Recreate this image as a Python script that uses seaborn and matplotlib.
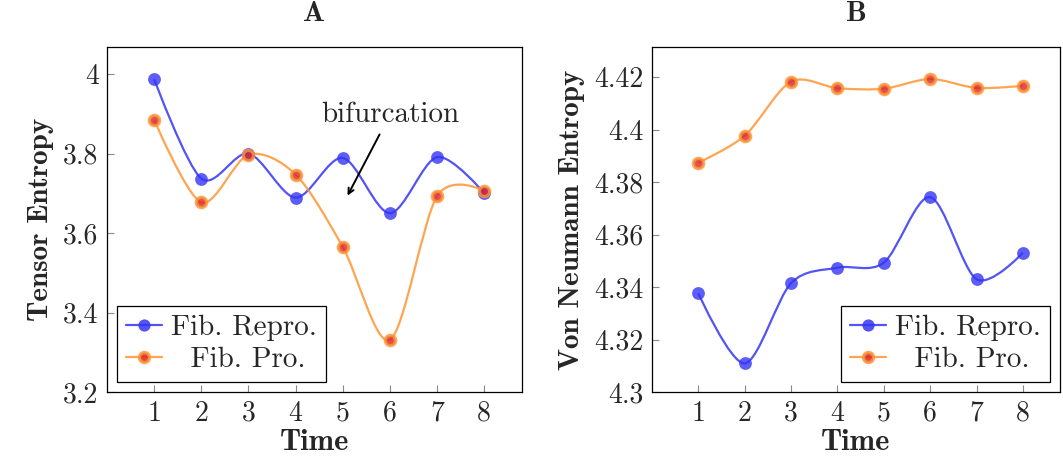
import numpy as np
import matplotlib
matplotlib.use("Agg")
import matplotlib.pyplot as plt
from matplotlib.path import Path
from matplotlib.patches import PathPatch
from matplotlib.lines import Line2D
import seaborn as sns

# data
time = [1, 2, 3, 4, 5, 6, 7, 8]
tensor_repro = [3.987, 3.737, 3.800, 3.689, 3.789, 3.650, 3.791, 3.700]
tensor_pro = [3.885, 3.677, 3.797, 3.747, 3.565, 3.331, 3.693, 3.706]
vn_repro = [4.3376, 4.3109, 4.3415, 4.3474, 4.3493, 4.3743, 4.3430, 4.3531]
vn_pro = [4.3874, 4.3977, 4.4183, 4.4158, 4.4156, 4.4193, 4.4159, 4.4167]

ticks_a = [3.2, 3.4, 3.6, 3.8, 4.0]
labels_a = ["3.2", "3.4", "3.6", "3.8", "4"]
ticks_b = [4.3, 4.32, 4.34, 4.36, 4.38, 4.4, 4.42]
labels_b = ["4.3", "4.32", "4.34", "4.36", "4.38", "4.4", "4.42"]
series_names = ["Fib. Repro.", "Fib. Pro."]

sns.set_style("ticks")
plt.rcParams["font.family"] = ["cmr10", "DejaVu Serif"]
plt.rcParams["axes.formatter.use_mathtext"] = True

blue = "#3535f5"
orange = "#ff9433"
red = "#d8262a"


def smooth_path(xs, ys, t=0.15):
    # tikz-like "smooth" curve: cubic bezier through the points
    p = np.column_stack([xs, ys]).astype(float)
    n = len(p)
    verts = [p[0]]
    codes = [Path.MOVETO]
    for i in range(n - 1):
        d0 = p[i + 1] - p[i - 1] if i > 0 else np.zeros(2)
        d1 = p[i + 2] - p[i] if i + 2 < n else np.zeros(2)
        verts += [p[i] + t * d0, p[i + 1] - t * d1, p[i + 1]]
        codes += [Path.CURVE4] * 3
    return Path(verts, codes)


def draw(ax, ys, kind):
    col = blue if kind == 0 else orange
    ax.add_patch(PathPatch(smooth_path(time, ys), fill=False, edgecolor=col,
                           lw=1.6, alpha=0.85, zorder=2))
    if kind == 0:
        sns.scatterplot(x=time, y=ys, ax=ax, color=blue, s=85, edgecolor=blue,
                        linewidth=0, alpha=0.8, zorder=3)
    else:
        sns.scatterplot(x=time, y=ys, ax=ax, color=red, s=55, edgecolor=orange,
                        linewidth=2.4, alpha=0.8, zorder=3)


handles = [
    Line2D([], [], color=blue, lw=1.6, marker="o", markersize=8.8,
           markerfacecolor=blue, markeredgewidth=0, alpha=0.85),
    Line2D([], [], color=orange, lw=1.6, marker="o", markersize=7.2,
           markerfacecolor=red, markeredgecolor=orange, markeredgewidth=2.4,
           alpha=0.85),
]
leg_labels = [series_names[0], "  " + series_names[1]]

fig = plt.figure(figsize=(10.63, 4.63), dpi=100)
ax1 = fig.add_axes([107 / 1063, 71 / 463, 415 / 1063, 345 / 463])
ax2 = fig.add_axes([652 / 1063, 71 / 463, 408 / 1063, 345 / 463])

draw(ax1, tensor_repro, 0)
draw(ax1, tensor_pro, 1)
draw(ax2, vn_repro, 0)
draw(ax2, vn_pro, 1)

for ax, ticks, labels, ylim, ylab, title in [
    (ax1, ticks_a, labels_a, (3.2, 4.068), "Tensor Entropy", "A"),
    (ax2, ticks_b, labels_b, (4.3, 4.4315), "Von Neumann Entropy", "B"),
]:
    ax.set_xlim(0, 8.8)
    ax.set_ylim(*ylim)
    ax.set_xticks(time)
    ax.set_xticklabels([str(t) for t in time])
    ax.set_yticks(ticks)
    ax.set_yticklabels(labels)
    ax.tick_params(direction="in", length=5, width=0.8, color="#888888",
                   labelsize=20, pad=6)
    for s in ax.spines.values():
        s.set_linewidth(0.9)
        s.set_color("black")
    ax.set_xlabel("Time", fontsize=22, family="cmb10", labelpad=2)
    ax.set_ylabel(ylab, fontsize=21, family="cmb10", labelpad=7)
    ax.set_title(title, fontsize=21, family="cmb10", pad=19)
    leg = ax.legend(handles, leg_labels, loc="lower left" if ax is ax1 else "lower right",
                    fontsize=21, frameon=True, fancybox=False, edgecolor="black",
                    handlelength=1.25, handletextpad=0.3, borderpad=0.3,
                    labelspacing=0.2, borderaxespad=0.35)
    leg.get_frame().set_linewidth(0.9)
    leg.get_frame().set_alpha(1)

ax1.annotate("", xy=(5.1, 3.694), xytext=(5.78, 3.848),
             arrowprops=dict(arrowstyle="->", lw=1.4, color="black",
                             shrinkA=0, shrinkB=0))
ax1.text(6.01, 3.897, "bifurcation", fontsize=21, ha="center", va="center")

fig.savefig("out.png", dpi=100)
